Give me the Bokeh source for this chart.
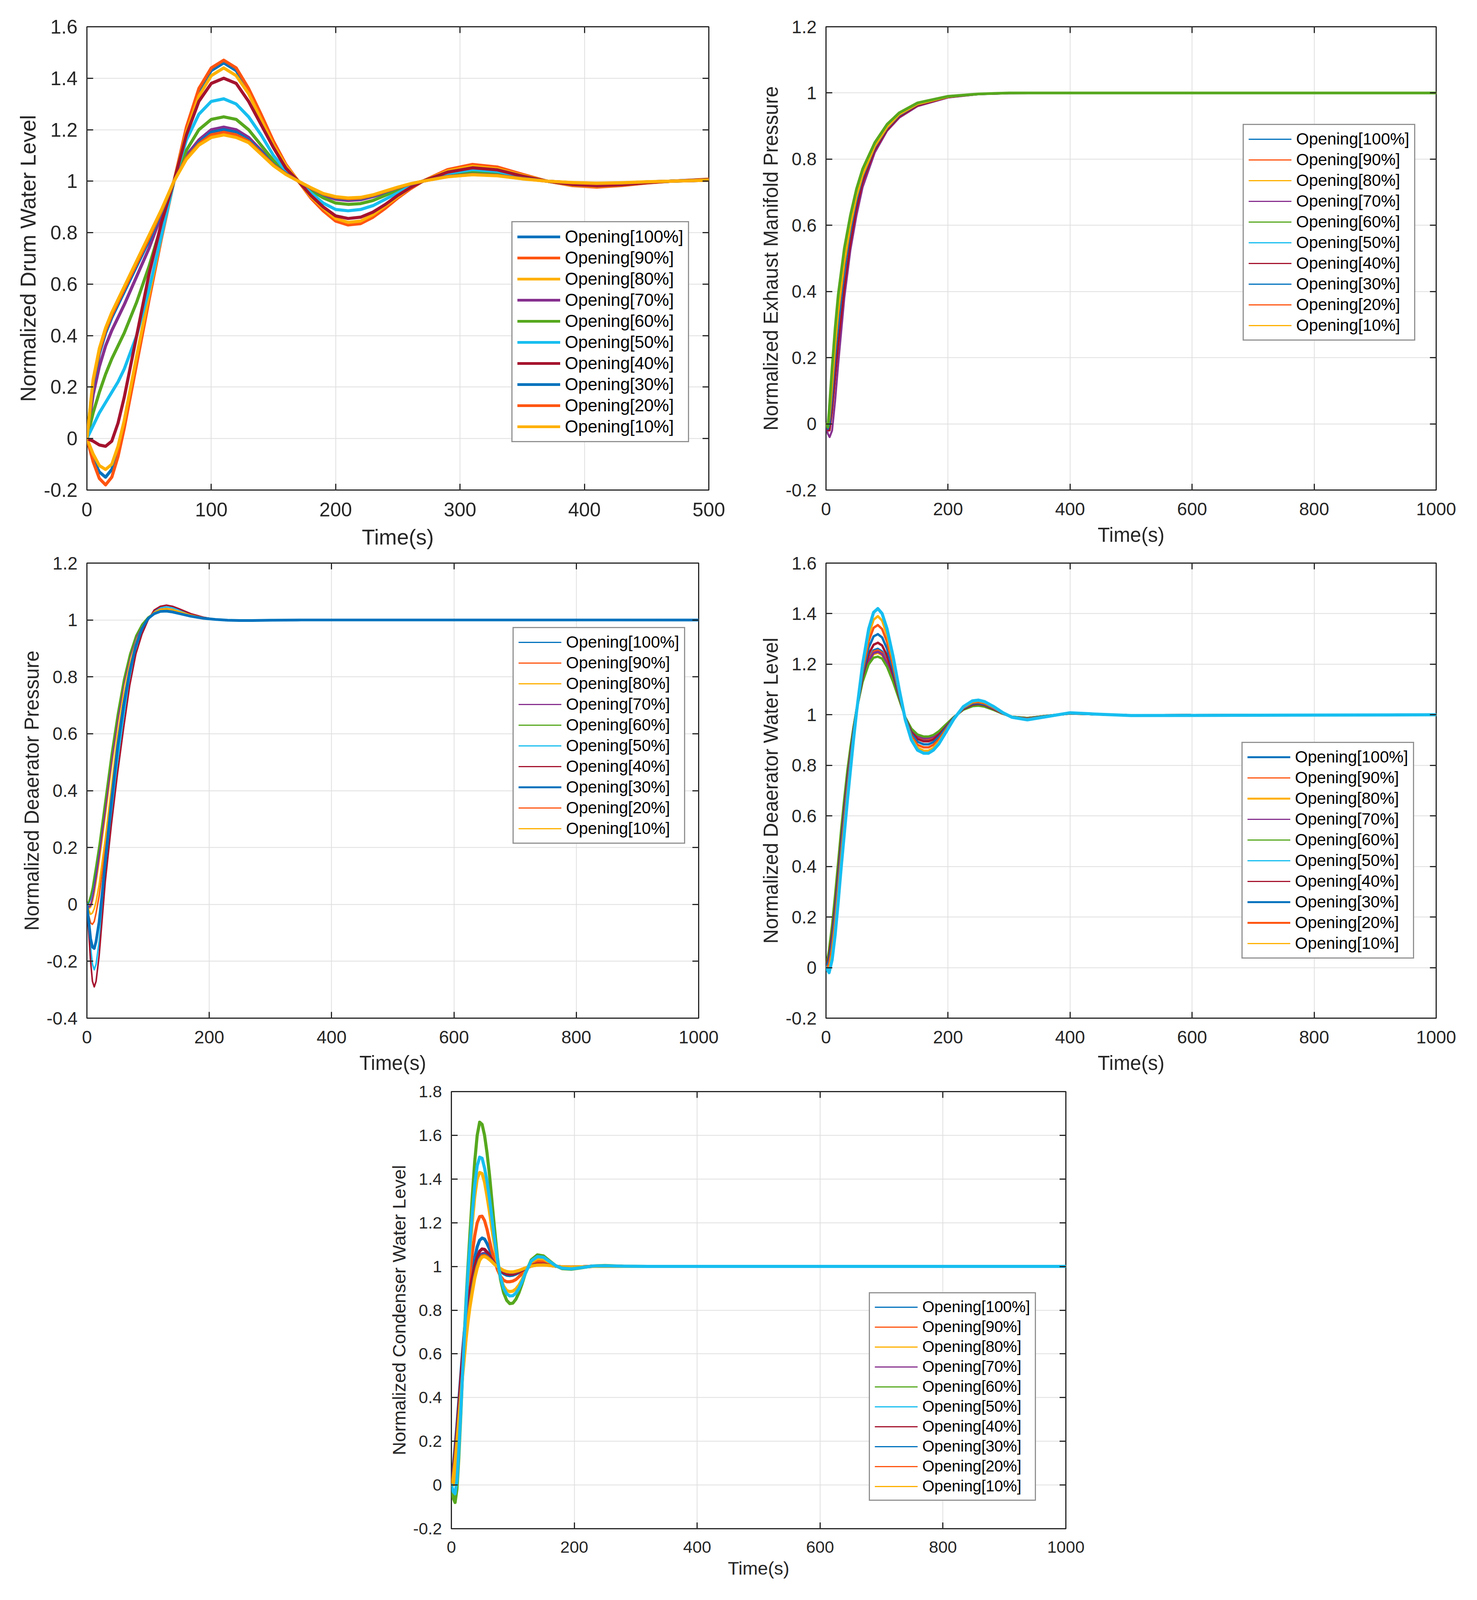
import numpy as np
from bokeh.plotting import figure
from bokeh.models import (Legend, LegendItem, LinearAxis, FixedTicker, CustomJSTickFormatter,
                          Range1d, Spacer, Grid)
from bokeh.layouts import row, column
from bokeh.embed import file_html
from bokeh.resources import INLINE

# ---------------- labels / colours ----------------
labels = ["Opening[100%]", "Opening[90%]", "Opening[80%]", "Opening[70%]", "Opening[60%]",
          "Opening[50%]", "Opening[40%]", "Opening[30%]", "Opening[20%]", "Opening[10%]"]
colors = ["#0072BD", "#FF5511", "#FFB000", "#87308F", "#56A81E",
          "#17BEF0", "#A5132E", "#0072BD", "#FF5511", "#FFB000"]

# ---------------- Plot 1: Normalized Drum Water Level ----------------
t1 = [0, 5, 10, 15, 20, 25, 30, 40, 50, 60, 70, 80, 90, 100, 110, 120, 130, 140, 150, 160, 170,
      180, 190, 200, 210, 220, 230, 240, 250, 260, 270, 290, 310, 330, 350, 370, 390, 410,
      430, 450, 470, 500]
d100 = [0, -0.08, -0.13, -0.15, -0.12, -0.05, 0.05,
        0.30, 0.55, 0.79, 1.00, 1.20, 1.35, 1.43,
        1.46, 1.43, 1.35, 1.25, 1.15, 1.06, 1.00,
        0.94, 0.89, 0.85, 0.835, 0.84, 0.865, 0.90,
        0.94, 0.975, 1.00,
        1.042, 1.06, 1.05, 1.025, 1.00, 0.985, 0.98,
        0.985, 0.995, 1.00, 1.007]
d90 = [0, -0.09, -0.155, -0.18, -0.15, -0.07, 0.04,
       0.29, 0.54, 0.78, 1.00, 1.21, 1.36, 1.44,
       1.47, 1.44, 1.36, 1.26, 1.155, 1.065, 1.00,
       0.935, 0.885, 0.845, 0.83, 0.835, 0.86, 0.895,
       0.935, 0.97, 1.00,
       1.045, 1.065, 1.055, 1.027, 1.00, 0.983, 0.977,
       0.983, 0.993, 1.00, 1.008]
d80 = [0, -0.06, -0.105, -0.12, -0.10, -0.03, 0.07,
       0.32, 0.56, 0.79, 1.00, 1.19, 1.33, 1.41,
       1.44, 1.41, 1.34, 1.24, 1.14, 1.06, 1.00,
       0.94, 0.895, 0.855, 0.84, 0.845, 0.87, 0.905,
       0.94, 0.975, 1.00,
       1.04, 1.058, 1.048, 1.023, 1.00, 0.985, 0.98,
       0.985, 0.994, 1.00, 1.007]
d70 = [0, 0.17, 0.28, 0.36, 0.42, 0.47, 0.52,
       0.63, 0.74, 0.87, 1.00, 1.10, 1.16, 1.20,
       1.21, 1.20, 1.17, 1.12, 1.07, 1.03, 1.00,
       0.97, 0.945, 0.93, 0.925, 0.928, 0.94, 0.955,
       0.972, 0.988, 1.00,
       1.02, 1.028, 1.024, 1.012, 1.00, 0.993, 0.99,
       0.993, 0.997, 1.00, 1.004]
d60 = [0, 0.10, 0.18, 0.25, 0.31, 0.36, 0.41,
       0.53, 0.67, 0.83, 1.00, 1.12, 1.20, 1.24,
       1.25, 1.24, 1.20, 1.14, 1.08, 1.03, 1.00,
       0.965, 0.935, 0.915, 0.91, 0.913, 0.925, 0.945,
       0.965, 0.985, 1.00,
       1.025, 1.035, 1.03, 1.015, 1.00, 0.99, 0.987,
       0.99, 0.996, 1.00, 1.005]
d50 = [0, 0.05, 0.10, 0.14, 0.18, 0.22, 0.27,
       0.40, 0.58, 0.79, 1.00, 1.16, 1.26, 1.31,
       1.32, 1.30, 1.25, 1.18, 1.10, 1.04, 1.00,
       0.955, 0.915, 0.89, 0.885, 0.89, 0.905, 0.93,
       0.955, 0.98, 1.00,
       1.03, 1.045, 1.038, 1.018, 1.00, 0.988, 0.984,
       0.988, 0.995, 1.00, 1.006]
d40 = [0, -0.01, -0.025, -0.03, -0.01, 0.06, 0.16,
       0.40, 0.64, 0.84, 1.00, 1.18, 1.31, 1.38,
       1.40, 1.38, 1.31, 1.22, 1.13, 1.05, 1.00,
       0.945, 0.90, 0.865, 0.855, 0.86, 0.88, 0.91,
       0.945, 0.975, 1.00,
       1.035, 1.052, 1.044, 1.02, 1.00, 0.987, 0.982,
       0.986, 0.994, 1.00, 1.006]
d30 = [0, 0.21, 0.33, 0.41, 0.47, 0.52, 0.57,
       0.67, 0.77, 0.88, 1.00, 1.09, 1.15, 1.19,
       1.20, 1.19, 1.16, 1.115, 1.065, 1.03, 1.00,
       0.972, 0.948, 0.935, 0.93, 0.932, 0.943, 0.958,
       0.974, 0.988, 1.00,
       1.019, 1.027, 1.023, 1.011, 1.00, 0.994, 0.991,
       0.993, 0.997, 1.00, 1.004]
d20 = [0, 0.22, 0.34, 0.42, 0.48, 0.53, 0.58,
       0.68, 0.78, 0.885, 1.00, 1.09, 1.145, 1.18,
       1.19, 1.18, 1.155, 1.11, 1.063, 1.028, 1.00,
       0.973, 0.95, 0.937, 0.932, 0.934, 0.945, 0.96,
       0.975, 0.989, 1.00,
       1.018, 1.026, 1.022, 1.01, 1.00, 0.994, 0.991,
       0.993, 0.997, 1.00, 1.004]
d10 = [0, 0.23, 0.35, 0.43, 0.49, 0.54, 0.59,
       0.69, 0.79, 0.89, 1.00, 1.085, 1.14, 1.17,
       1.18, 1.17, 1.15, 1.105, 1.06, 1.026, 1.00,
       0.975, 0.952, 0.94, 0.935, 0.937, 0.947, 0.962,
       0.977, 0.99, 1.00,
       1.017, 1.025, 1.021, 1.009, 1.00, 0.995, 0.992,
       0.994, 0.998, 1.00, 1.004]

# ---------------- Plot 2: Normalized Exhaust Manifold Pressure ----------------
t2 = [0, 3, 6, 10, 15, 20, 30, 40, 50, 60, 80, 100, 120, 150, 200, 250, 300, 400, 1000]
e100 = [0, -0.005, 0.05, 0.15, 0.27, 0.37, 0.51, 0.615, 0.695, 0.76, 0.845, 0.9, 0.937, 0.968, 0.989, 0.997, 1.0, 1.0, 1.0]
e90 = [0, -0.005, 0.055, 0.16, 0.28, 0.38, 0.52, 0.62, 0.70, 0.765, 0.847, 0.902, 0.938, 0.969, 0.989, 0.997, 1.0, 1.0, 1.0]
e80 = [0, -0.01, 0.04, 0.14, 0.26, 0.36, 0.50, 0.605, 0.69, 0.755, 0.84, 0.897, 0.935, 0.967, 0.989, 0.997, 1.0, 1.0, 1.0]
e70 = [0, -0.03, -0.04, -0.02, 0.07, 0.18, 0.38, 0.525, 0.63, 0.715, 0.82, 0.885, 0.925, 0.96, 0.986, 0.996, 0.999, 1.0, 1.0]
e60 = [0, -0.01, 0.06, 0.17, 0.29, 0.39, 0.53, 0.63, 0.71, 0.77, 0.85, 0.905, 0.94, 0.97, 0.99, 0.997, 1.0, 1.0, 1.0]
e50 = [0, -0.02, -0.01, 0.06, 0.17, 0.27, 0.43, 0.56, 0.66, 0.735, 0.83, 0.89, 0.93, 0.963, 0.987, 0.996, 0.999, 1.0, 1.0]
e40 = [0, -0.02, -0.02, 0.04, 0.14, 0.24, 0.41, 0.545, 0.65, 0.73, 0.828, 0.888, 0.928, 0.962, 0.987, 0.996, 0.999, 1.0, 1.0]
e30 = [0, -0.015, 0.0, 0.08, 0.2, 0.3, 0.46, 0.58, 0.675, 0.745, 0.835, 0.893, 0.932, 0.965, 0.988, 0.997, 1.0, 1.0, 1.0]
e20 = [0, -0.01, 0.02, 0.11, 0.23, 0.33, 0.48, 0.595, 0.685, 0.75, 0.838, 0.895, 0.934, 0.966, 0.988, 0.997, 1.0, 1.0, 1.0]
e10 = [0, -0.01, 0.03, 0.12, 0.24, 0.34, 0.49, 0.6, 0.687, 0.752, 0.839, 0.896, 0.935, 0.966, 0.988, 0.997, 1.0, 1.0, 1.0]

# ---------------- Plot 3: Normalized Deaerator Pressure ----------------
t3 = [0, 3, 6, 9, 12, 15, 20, 25, 30, 40, 50, 60, 70, 80, 90, 100, 110, 120, 130, 140, 150,
      170, 190, 210, 230, 250, 270, 300, 350, 1000]
p100 = [0, 0.005, 0.02, 0.05, 0.085, 0.12, 0.19, 0.27, 0.35, 0.51, 0.655,
        0.78, 0.875, 0.94, 0.982, 1.008, 1.024, 1.031, 1.033, 1.03, 1.025,
        1.015, 1.007, 1.002, 0.999, 0.998, 0.998, 0.999, 1.0, 1.0]
p90 = [0, -0.01, 0.0, 0.02, 0.05, 0.09, 0.16, 0.24, 0.32, 0.49, 0.64,
       0.77, 0.87, 0.937, 0.98, 1.007, 1.026, 1.035, 1.037, 1.034, 1.028,
       1.016, 1.008, 1.002, 0.999, 0.998, 0.998, 0.999, 1.0, 1.0]
p80 = [0, -0.015, -0.01, 0.01, 0.04, 0.08, 0.15, 0.23, 0.31, 0.48, 0.635,
       0.765, 0.865, 0.935, 0.98, 1.007, 1.027, 1.036, 1.038, 1.035, 1.029,
       1.016, 1.008, 1.002, 0.999, 0.998, 0.998, 0.999, 1.0, 1.0]
p70 = [0, -0.01, -0.005, 0.02, 0.055, 0.095, 0.17, 0.25, 0.33, 0.5, 0.645,
       0.775, 0.87, 0.938, 0.981, 1.008, 1.025, 1.033, 1.035, 1.032, 1.026,
       1.015, 1.007, 1.002, 0.999, 0.998, 0.998, 0.999, 1.0, 1.0]
p60 = [0, 0.01, 0.03, 0.06, 0.1, 0.14, 0.21, 0.29, 0.37, 0.53, 0.67,
       0.79, 0.88, 0.945, 0.985, 1.01, 1.025, 1.032, 1.033, 1.03, 1.025,
       1.015, 1.007, 1.002, 0.999, 0.998, 0.998, 0.999, 1.0, 1.0]
p50 = [0, -0.07, -0.15, -0.21, -0.23, -0.21, -0.13, -0.02, 0.1, 0.31, 0.5,
       0.66, 0.8, 0.9, 0.96, 1.0, 1.03, 1.043, 1.046, 1.043, 1.036,
       1.02, 1.009, 1.002, 0.998, 0.997, 0.997, 0.999, 1.0, 1.0]
p40 = [0, -0.1, -0.2, -0.27, -0.29, -0.27, -0.18, -0.05, 0.08, 0.28, 0.46,
       0.62, 0.77, 0.88, 0.95, 1.0, 1.035, 1.048, 1.052, 1.048, 1.04,
       1.022, 1.01, 1.002, 0.998, 0.997, 0.997, 0.999, 1.0, 1.0]
p30 = [0, -0.06, -0.12, -0.15, -0.155, -0.13, -0.06, 0.04, 0.15, 0.36, 0.55,
       0.7, 0.82, 0.91, 0.97, 1.005, 1.022, 1.03, 1.031, 1.028, 1.023,
       1.013, 1.006, 1.002, 0.999, 0.998, 0.998, 0.999, 1.0, 1.0]
p20 = [0, -0.04, -0.065, -0.07, -0.06, -0.03, 0.03, 0.11, 0.2, 0.39, 0.57,
       0.72, 0.83, 0.915, 0.97, 1.005, 1.027, 1.038, 1.04, 1.037, 1.03,
       1.017, 1.008, 1.002, 0.999, 0.998, 0.998, 0.999, 1.0, 1.0]
p10 = [0, -0.02, -0.035, -0.03, -0.015, 0.01, 0.07, 0.15, 0.23, 0.41, 0.59,
       0.73, 0.84, 0.92, 0.975, 1.007, 1.027, 1.037, 1.039, 1.036, 1.03,
       1.017, 1.008, 1.002, 0.999, 0.998, 0.998, 0.999, 1.0, 1.0]

# ---------------- Plot 4: Normalized Deaerator Water Level ----------------
t4 = [0, 5, 10, 15, 20, 25, 30, 35, 40, 45, 50, 60, 70, 78, 85, 92, 100, 110, 120, 130,
      140, 150, 160, 168, 176, 185, 195, 210, 225, 240, 250, 260, 275, 290, 305, 330, 360,
      400, 440, 500, 1000]
w100 = [0, 0.056, 0.148, 0.264, 0.394, 0.526, 0.648, 0.761, 0.855, 0.942,
        1.018, 1.141, 1.222, 1.255, 1.261, 1.25, 1.214, 1.146, 1.066, 0.988,
        0.938, 0.912, 0.903, 0.903, 0.91, 0.927, 0.953, 0.991, 1.022, 1.038,
        1.04, 1.036, 1.021, 1.005, 0.991, 0.986, 0.995, 1.006, 1.002, 0.998, 1.0]
w90 = [0, 0.058, 0.152, 0.268, 0.398, 0.53, 0.652, 0.764, 0.858, 0.943,
       1.018, 1.139, 1.218, 1.25, 1.255, 1.245, 1.21, 1.143, 1.065, 0.988,
       0.94, 0.914, 0.905, 0.905, 0.912, 0.928, 0.954, 0.991, 1.021, 1.037,
       1.039, 1.035, 1.02, 1.005, 0.991, 0.986, 0.995, 1.005, 1.002, 0.998, 1.0]
w80 = [0, 0.063, 0.16, 0.278, 0.407, 0.538, 0.659, 0.77, 0.863, 0.946,
       1.019, 1.135, 1.211, 1.24, 1.245, 1.236, 1.202, 1.138, 1.063, 0.989,
       0.942, 0.918, 0.909, 0.91, 0.916, 0.931, 0.956, 0.991, 1.021, 1.036,
       1.038, 1.034, 1.02, 1.004, 0.992, 0.987, 0.995, 1.005, 1.002, 0.998, 1.0]
w70 = [0, 0.061, 0.156, 0.274, 0.404, 0.535, 0.656, 0.768, 0.861, 0.945,
       1.019, 1.137, 1.214, 1.244, 1.249, 1.24, 1.205, 1.14, 1.064, 0.989,
       0.941, 0.916, 0.907, 0.908, 0.914, 0.93, 0.955, 0.991, 1.021, 1.036,
       1.038, 1.034, 1.02, 1.004, 0.992, 0.987, 0.995, 1.005, 1.002, 0.998, 1.0]
w60 = [0, 0.07, 0.17, 0.29, 0.42, 0.55, 0.67, 0.78, 0.87, 0.95,
       1.02, 1.13, 1.2, 1.226, 1.23, 1.222, 1.19, 1.13, 1.06, 0.99,
       0.945, 0.922, 0.914, 0.914, 0.92, 0.935, 0.958, 0.992, 1.02, 1.034,
       1.036, 1.032, 1.019, 1.004, 0.992, 0.987, 0.995, 1.005, 1.002, 0.998, 1.0]
w50 = [0, -0.02, 0.03, 0.13, 0.26, 0.40, 0.53, 0.66, 0.78, 0.90,
       1.01, 1.20, 1.34, 1.405, 1.42, 1.40, 1.34, 1.23, 1.10, 0.98,
       0.90, 0.86, 0.848, 0.848, 0.86, 0.885, 0.925, 0.985, 1.032, 1.055,
       1.058, 1.052, 1.032, 1.008, 0.99, 0.98, 0.992, 1.008, 1.003, 0.997, 1.0]
w40 = [0, 0.044, 0.13, 0.244, 0.373, 0.507, 0.63, 0.745, 0.844, 0.936,
       1.017, 1.15, 1.241, 1.277, 1.285, 1.274, 1.234, 1.159, 1.072, 0.987,
       0.932, 0.904, 0.895, 0.895, 0.902, 0.921, 0.948, 0.99, 1.023, 1.04,
       1.043, 1.038, 1.022, 1.005, 0.991, 0.985, 0.994, 1.006, 1.002, 0.998, 1.0]
w30 = [0, 0.028, 0.104, 0.215, 0.345, 0.48, 0.604, 0.723, 0.828, 0.927,
       1.016, 1.163, 1.266, 1.31, 1.319, 1.306, 1.261, 1.177, 1.079, 0.986,
       0.924, 0.893, 0.883, 0.883, 0.892, 0.912, 0.943, 0.989, 1.026, 1.044,
       1.046, 1.041, 1.025, 1.006, 0.991, 0.984, 0.994, 1.006, 1.002, 0.998, 1.0]
w20 = [0, 0.011, 0.078, 0.185, 0.315, 0.451, 0.578, 0.701, 0.811, 0.917,
       1.014, 1.176, 1.292, 1.344, 1.355, 1.339, 1.289, 1.196, 1.086, 0.984,
       0.915, 0.881, 0.871, 0.871, 0.881, 0.902, 0.936, 0.987, 1.028, 1.048,
       1.05, 1.045, 1.027, 1.006, 0.99, 0.983, 0.993, 1.007, 1.003, 0.997, 1.0]
w10 = [0, -0.005, 0.052, 0.155, 0.285, 0.424, 0.552, 0.679, 0.794, 0.908,
       1.011, 1.189, 1.318, 1.376, 1.39, 1.372, 1.316, 1.214, 1.094, 0.981,
       0.907, 0.87, 0.858, 0.858, 0.869, 0.893, 0.93, 0.986, 1.03, 1.051,
       1.055, 1.049, 1.03, 1.008, 0.991, 0.981, 0.992, 1.007, 1.003, 0.997, 1.0]

# ---------------- Plot 5: Normalized Condenser Water Level ----------------
t5 = [0, 3, 6, 9, 12, 15, 18, 21, 24, 27, 30, 34, 38, 42, 46, 50, 54, 58, 62, 66, 70, 75,
      80, 85, 90, 95, 100, 105, 110, 115, 120, 130, 140, 150, 160, 170, 180, 195, 210, 230,
      250, 280, 320, 1000]
c100 = [0, 0.08, 0.17, 0.27, 0.38, 0.49, 0.6, 0.7, 0.78, 0.85,
        0.91, 0.98, 1.04, 1.09, 1.12, 1.13, 1.125, 1.105, 1.08, 1.05,
        1.025, 1.0, 0.98, 0.967, 0.96, 0.958, 0.96, 0.965, 0.972, 0.98,
        0.99, 1.006, 1.014, 1.014, 1.008, 1.001, 0.997, 0.996, 0.998, 1.001,
        1.001, 1.0, 1.0, 1.0]
c90 = [0, 0.04, 0.09, 0.18, 0.3, 0.43, 0.56, 0.68, 0.79, 0.88,
       0.96, 1.06, 1.14, 1.2, 1.228, 1.23, 1.21, 1.17, 1.12, 1.07,
       1.03, 0.985, 0.955, 0.937, 0.93, 0.93, 0.933, 0.94, 0.953, 0.968,
       0.985, 1.012, 1.025, 1.024, 1.013, 1.002, 0.995, 0.993, 0.996, 1.001,
       1.002, 1.0, 1.0, 1.0]
c80 = [0, 0.0, 0.02, 0.1, 0.22, 0.37, 0.53, 0.68, 0.82, 0.95,
       1.06, 1.2, 1.32, 1.4, 1.43, 1.425, 1.385, 1.32, 1.25, 1.17,
       1.1, 1.01, 0.95, 0.91, 0.89, 0.885, 0.887, 0.897, 0.915, 0.94,
       0.972, 1.02, 1.036, 1.034, 1.018, 1.002, 0.993, 0.99, 0.995, 1.002,
       1.003, 1.0, 1.0, 1.0]
c70 = [0, 0.06, 0.13, 0.22, 0.32, 0.42, 0.52, 0.61, 0.7, 0.77,
       0.84, 0.91, 0.97, 1.015, 1.045, 1.058, 1.06, 1.052, 1.04, 1.027,
       1.013, 0.999, 0.987, 0.978, 0.972, 0.97, 0.97, 0.973, 0.978, 0.984,
       0.99, 1.002, 1.008, 1.009, 1.005, 1.001, 0.998, 0.997, 0.998, 1.0,
       1.001, 1.0, 1.0, 1.0]
c60 = [0, -0.06, -0.08, -0.02, 0.12, 0.3, 0.5, 0.68, 0.85, 1.0,
       1.14, 1.32, 1.48, 1.6, 1.66, 1.65, 1.6, 1.52, 1.42, 1.3,
       1.18, 1.04, 0.94, 0.88, 0.845, 0.83, 0.832, 0.85, 0.88, 0.92,
       0.965, 1.03, 1.053, 1.048, 1.025, 1.003, 0.99, 0.987, 0.993, 1.002,
       1.004, 1.001, 1.0, 1.0]
c50 = [0, -0.03, -0.04, 0.02, 0.15, 0.32, 0.5, 0.67, 0.83, 0.97,
       1.09, 1.24, 1.37, 1.46, 1.5, 1.495, 1.45, 1.39, 1.31, 1.22,
       1.13, 1.03, 0.95, 0.9, 0.875, 0.865, 0.866, 0.878, 0.9, 0.93,
       0.967, 1.025, 1.045, 1.042, 1.022, 1.003, 0.992, 0.989, 0.994, 1.002,
       1.003, 1.001, 1.0, 1.0]
c40 = [0, 0.07, 0.15, 0.25, 0.36, 0.47, 0.58, 0.68, 0.76, 0.83,
       0.89, 0.95, 1.0, 1.04, 1.07, 1.08, 1.078, 1.066, 1.05, 1.032,
       1.015, 0.998, 0.983, 0.972, 0.966, 0.964, 0.965, 0.969, 0.975, 0.982,
       0.99, 1.004, 1.011, 1.011, 1.006, 1.001, 0.998, 0.997, 0.998, 1.001,
       1.001, 1.0, 1.0, 1.0]
c30 = [0, 0.05, 0.12, 0.21, 0.31, 0.41, 0.51, 0.6, 0.69, 0.765,
       0.83, 0.9, 0.96, 1.005, 1.037, 1.052, 1.055, 1.048, 1.037, 1.025,
       1.012, 0.999, 0.988, 0.98, 0.975, 0.973, 0.973, 0.976, 0.98, 0.986,
       0.992, 1.002, 1.007, 1.008, 1.005, 1.001, 0.998, 0.997, 0.998, 1.0,
       1.001, 1.0, 1.0, 1.0]
c20 = [0, 0.04, 0.11, 0.2, 0.3, 0.4, 0.5, 0.59, 0.68, 0.755,
       0.82, 0.89, 0.952, 0.998, 1.032, 1.048, 1.05, 1.044, 1.034, 1.023,
       1.011, 0.999, 0.989, 0.981, 0.976, 0.974, 0.974, 0.977, 0.981, 0.987,
       0.992, 1.002, 1.007, 1.007, 1.005, 1.001, 0.998, 0.997, 0.998, 1.0,
       1.001, 1.0, 1.0, 1.0]
c10 = [0, 0.03, 0.1, 0.19, 0.29, 0.39, 0.49, 0.58, 0.67, 0.745,
       0.81, 0.88, 0.945, 0.992, 1.027, 1.043, 1.045, 1.04, 1.031, 1.021,
       1.01, 0.999, 0.99, 0.982, 0.977, 0.975, 0.975, 0.978, 0.982, 0.987,
       0.993, 1.002, 1.006, 1.007, 1.004, 1.001, 0.998, 0.997, 0.998, 1.0,
       1.001, 1.0, 1.0, 1.0]

# ---------------- tick values ----------------
yt1 = [-0.2, 0, 0.2, 0.4, 0.6, 0.8, 1, 1.2, 1.4, 1.6]
yt2 = [-0.2, 0, 0.2, 0.4, 0.6, 0.8, 1, 1.2]
yt3 = [-0.4, -0.2, 0, 0.2, 0.4, 0.6, 0.8, 1, 1.2]
yt4 = [-0.2, 0, 0.2, 0.4, 0.6, 0.8, 1, 1.2, 1.4, 1.6]
yt5 = [-0.2, 0, 0.2, 0.4, 0.6, 0.8, 1, 1.2, 1.4, 1.6, 1.8]
xt500 = [0, 100, 200, 300, 400, 500]
xt1000 = [0, 200, 400, 600, 800, 1000]

AX = "#262626"
FONT = "Liberation Sans"
fmt_code = "var s = tick.toFixed(1); if (s.endsWith('.0')) { s = s.slice(0, -2); } return s;"


def check(name, t, series):
    for i, s in enumerate(series):
        if len(s) != len(t):
            raise ValueError("%s series %d has %d values, expected %d" % (name, i, len(s), len(t)))


def make_fig(w, h, bl, br, bt, bb, xr, yr, xt, yt, xlabel, ylabel, fs_tick, fs_lab,
             x_lab_standoff=19, y_lab_standoff=6):
    p = figure(width=w, height=h, output_backend="svg", toolbar_location=None,
               x_range=Range1d(*xr), y_range=Range1d(*yr),
               x_axis_type=None, y_axis_type=None,
               min_border_left=bl, min_border_right=br, min_border_top=bt, min_border_bottom=bb)
    p.background_fill_color = "white"
    p.border_fill_color = "white"
    p.outline_line_color = AX
    p.outline_line_width = 3
    p.outline_line_alpha = 1.0
    xtick = FixedTicker(ticks=xt, minor_ticks=[])
    ytick = FixedTicker(ticks=yt, minor_ticks=[])
    fmt = CustomJSTickFormatter(code=fmt_code)
    blank = CustomJSTickFormatter(code="return '';")

    def style(ax, labels_on):
        ax.axis_line_color = None
        ax.major_tick_in = 16
        ax.major_tick_out = 0
        ax.major_tick_line_color = AX
        ax.major_tick_line_width = 3
        ax.minor_tick_line_color = None
        if labels_on:
            ax.major_label_text_font = FONT
            ax.major_label_text_font_size = "%dpx" % fs_tick
            ax.major_label_text_color = AX
            ax.axis_label_text_font = FONT
            ax.axis_label_text_font_size = "%dpx" % fs_lab
            ax.axis_label_text_font_style = "normal"
            ax.axis_label_text_color = AX
        else:
            ax.major_label_text_font_size = "0px"
            ax.major_label_standoff = 0

    xb = LinearAxis(ticker=xtick, formatter=fmt, axis_label=xlabel)
    style(xb, True)
    xb.major_label_standoff = 32
    xb.axis_label_standoff = x_lab_standoff
    yl = LinearAxis(ticker=ytick, formatter=fmt, axis_label=ylabel)
    style(yl, True)
    yl.major_label_standoff = 24
    yl.axis_label_standoff = y_lab_standoff
    xa = LinearAxis(ticker=xtick, formatter=blank)
    style(xa, False)
    yr_ = LinearAxis(ticker=ytick, formatter=blank)
    style(yr_, False)
    p.add_layout(xb, "below")
    p.add_layout(yl, "left")
    p.add_layout(xa, "above")
    p.add_layout(yr_, "right")
    for dim, tk in ((0, xtick), (1, ytick)):
        g = Grid(dimension=dim, ticker=tk)
        g.grid_line_color = "#DFDFDF"
        g.grid_line_width = 2
        p.add_layout(g)
    return p


def add_curves(p, t, series, widths, order, leg_widths, loc, fs_leg, spacing):
    for i in order:
        p.line(x=t, y=series[i], line_color=colors[i], line_width=widths[i],
               line_join="round", line_cap="round")
    items = []
    for i in range(10):
        r = p.line(x=[np.nan], y=[np.nan], line_color=colors[i], line_width=leg_widths[i])
        items.append(LegendItem(label=labels[i], renderers=[r]))
    leg = Legend(items=items, location=loc)
    leg.label_text_font = FONT
    leg.label_text_font_size = "%dpx" % fs_leg
    leg.label_text_color = "black"
    leg.glyph_width = 110
    leg.glyph_height = 30
    leg.label_height = 30
    leg.label_standoff = 12
    leg.spacing = spacing
    leg.padding = 12
    leg.margin = 0
    leg.border_line_color = AX
    leg.border_line_width = 3
    leg.background_fill_color = "white"
    leg.background_fill_alpha = 1.0
    p.add_layout(leg)


s1 = [d100, d90, d80, d70, d60, d50, d40, d30, d20, d10]
s2 = [e100, e90, e80, e70, e60, e50, e40, e30, e20, e10]
s3 = [p100, p90, p80, p70, p60, p50, p40, p30, p20, p10]
s4 = [w100, w90, w80, w70, w60, w50, w40, w30, w20, w10]
s5 = [c100, c90, c80, c70, c60, c50, c40, c30, c20, c10]
check("plot1", t1, s1)
check("plot2", t2, s2)
check("plot3", t3, s3)
check("plot4", t4, s4)
check("plot5", t5, s5)

# Row 1
f1 = make_fig(1892, 1412, 222, 78, 68, 158, (0, 500), (-0.2, 1.6), xt500, yt1,
              "Time(s)", "Normalized Drum Water Level", 50, 55)
add_curves(f1, t1, s1, [8] * 10, list(range(10)), [7] * 10, (1087, 122), 44, 4)

f2 = make_fig(1870, 1412, 222, 86, 68, 158, (0, 1000), (-0.2, 1.2), xt1000, yt2,
              "Time(s)", "Normalized Exhaust Manifold Pressure", 46, 51)
add_curves(f2, t2, s2, [5, 5, 5, 5, 7, 5, 5, 5, 5, 5], [0, 1, 2, 3, 5, 6, 7, 8, 9, 4],
           [3] * 10, (1067, 382), 42, 5)

# Row 2
f3 = make_fig(1892, 1350, 222, 104, 29, 156, (0, 1000), (-0.4, 1.2), xt1000, yt3,
              "Time(s)", "Normalized Deaerator Pressure", 46, 51)
add_curves(f3, t3, s3, [4, 4, 4, 4, 4, 4, 4, 7, 4, 4], [0, 1, 2, 3, 4, 5, 6, 8, 9, 7],
           [3, 3, 3, 3, 3, 3, 3, 5, 3, 3], (1090, 446), 42, 5)

f4 = make_fig(1870, 1350, 222, 86, 29, 156, (0, 1000), (-0.2, 1.6), xt1000, yt4,
              "Time(s)", "Normalized Deaerator Water Level", 46, 51)
add_curves(f4, t4, s4, [6, 6, 6, 6, 6, 8, 6, 6, 6, 6], [0, 1, 2, 3, 4, 6, 7, 8, 9, 5],
           [5, 3, 5, 3, 3, 3, 3, 5, 5, 3], (1064, 152), 42, 5)

# Row 3
f5 = make_fig(1876, 1311, 223, 80, 32, 160, (0, 1000), (-0.2, 1.8), xt1000, yt5,
              "Time(s)", "Normalized Condenser Water Level", 43, 47, x_lab_standoff=10)
add_curves(f5, t5, s5, [8] * 10, [0, 1, 2, 3, 4, 6, 7, 8, 9, 5], [3] * 10, (1069, 71), 40, 6)

layout = column(row(f1, f2), row(f3, f4), row(Spacer(width=932, height=1311), f5))
open("out.html", "w").write(file_html(layout, INLINE))
